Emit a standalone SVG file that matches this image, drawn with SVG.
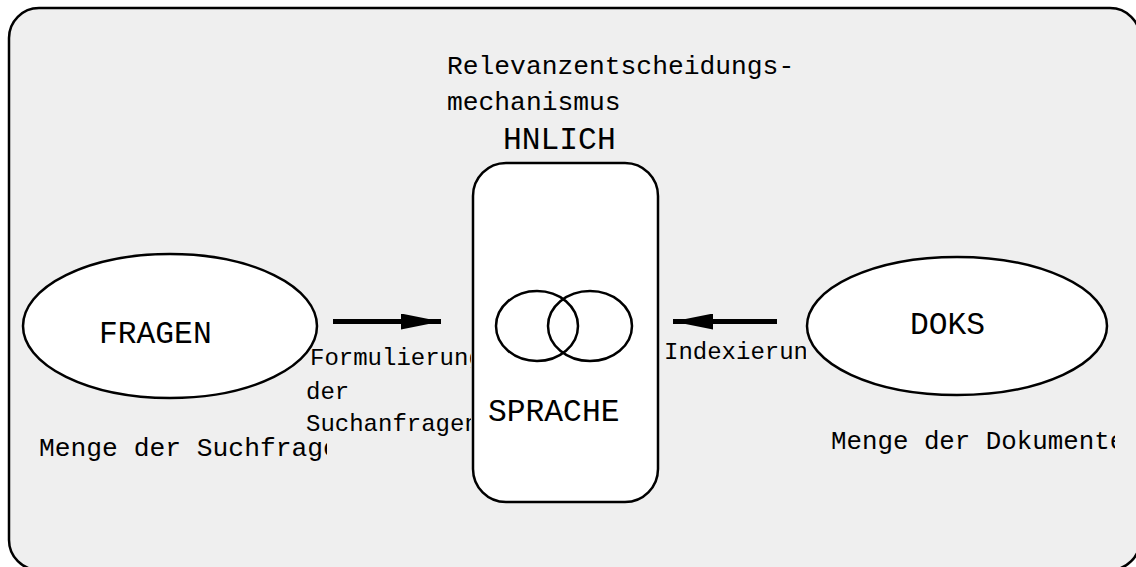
<svg xmlns="http://www.w3.org/2000/svg" width="1136" height="567" viewBox="0 0 1136 567">
<style>
.ln{stroke:#000;stroke-width:2.5;}
.wf{fill:#fff;}
.t{font-family:"Liberation Mono","Courier New",monospace;fill:#000;}
.big{font-size:31.3px;}
.mid{font-size:26.3px;}
.sm{font-size:24px;}
</style>
<defs>
<clipPath id="clipL"><rect x="0" y="0" width="471" height="567"/></clipPath>
<clipPath id="clipQ"><rect x="0" y="0" width="327" height="567"/></clipPath>
<clipPath id="clipD"><rect x="0" y="0" width="1115" height="567"/></clipPath>
<clipPath id="clipI"><rect x="0" y="0" width="806" height="567"/></clipPath>
<marker id="ah" markerWidth="8" markerHeight="3.2" refX="8" refY="1.6" orient="auto" markerUnits="strokeWidth">
<path d="M0,0 L8,1.6 L0,3.2 Z" fill="#000"/>
</marker>
</defs>
<g id="frame">
<rect x="9" y="8" width="1131" height="562" rx="30" ry="30" fill="#efefef" class="ln"/>
</g>
<g id="node-fragen">
<ellipse cx="170" cy="326" rx="147" ry="72" class="ln wf"/>
<text class="t big" x="99" y="343">FRAGEN</text>
</g>
<g id="node-doks">
<ellipse cx="957" cy="326" rx="150" ry="69" class="ln wf"/>
<text class="t big" x="910" y="334">DOKS</text>
</g>
<g id="node-sprache">
<rect x="473" y="163" width="185" height="339" rx="33" ry="33" class="ln wf"/>
<ellipse cx="537" cy="326" rx="41" ry="35" fill="none" class="ln"/>
<ellipse cx="590" cy="326" rx="42" ry="35" fill="none" class="ln"/>
<text class="t big" x="488" y="421">SPRACHE</text>
</g>
<g id="label-relevanz">
<text class="t mid" x="447" y="74">Relevanzentscheidungs-</text>
<text class="t mid" x="447" y="110">mechanismus</text>
<text class="t big" x="503" y="149">HNLICH</text>
</g>
<g id="label-suchfragen">
<text class="t mid" x="39" y="456" clip-path="url(#clipQ)">Menge der Suchfragen</text>
</g>
<g id="label-dokumente">
<text class="t" style="font-size:25.8px" x="831" y="449" clip-path="url(#clipD)">Menge der Dokumente</text>
</g>
<g id="connectors">
<line x1="333" y1="321.5" x2="441" y2="321.5" stroke="#000" stroke-width="5" marker-end="url(#ah)"/>
<line x1="777" y1="321.5" x2="673" y2="321.5" stroke="#000" stroke-width="5" marker-end="url(#ah)"/>
<g clip-path="url(#clipL)">
<text class="t sm" x="310" y="365">Formulierung</text>
<text class="t sm" x="306" y="399">der</text>
<text class="t sm" x="306" y="431">Suchanfragen</text>
</g>
<text class="t sm" x="664" y="359" clip-path="url(#clipI)">Indexierung</text>
</g>
</svg>
